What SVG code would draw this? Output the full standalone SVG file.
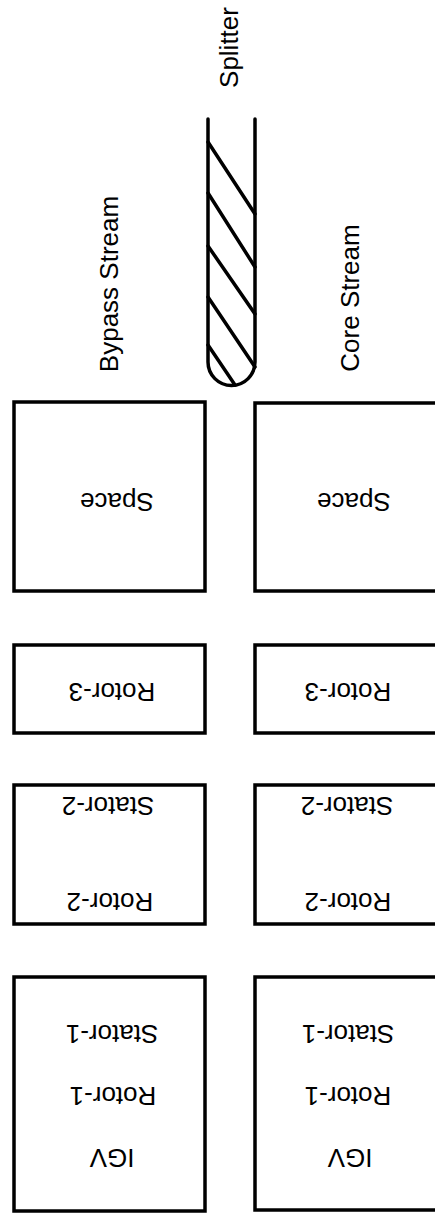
<svg xmlns="http://www.w3.org/2000/svg" width="435" height="1216" viewBox="0 0 435 1216">
<style>
.box{fill:none;stroke:#000;stroke-width:3.5}
.sp{fill:none;stroke:#000;stroke-width:3.5;stroke-linecap:round}
.t{font-family:"Liberation Sans",Arial,sans-serif;font-size:26px;fill:#000;text-anchor:middle}
</style>
<rect width="435" height="1216" fill="#fff"/>
<g id="splitter">
<path class="sp" d="M208,119 V362 A23.5,23.5 0 0 0 255,362 V119"/>
<path class="sp" d="M208,142 L255,214 M208,193 L255,267 M208,246 L255,314 M208,297 L255,367 M208,345 L235,385"/>
<text class="t" transform="translate(229,47.5) rotate(-90)" y="9.3">Splitter</text>
</g>
<g id="labels">
<text class="t" transform="translate(108.5,284) rotate(-90)" y="9.3">Bypass Stream</text>
<text class="t" transform="translate(350,298) rotate(-90)" y="9.3">Core Stream</text>
</g>
<g id="bypass-space">
<rect class="box" x="14" y="402" width="191" height="189"/>
<text class="t" transform="translate(117,502) rotate(180)" y="9.3">Space</text>
</g>
<g id="core-space">
<rect class="box" x="255" y="403" width="195" height="188"/>
<text class="t" transform="translate(354,502) rotate(180)" y="9.3">Space</text>
</g>
<g id="bypass-rotor3">
<rect class="box" x="14" y="645" width="191" height="88"/>
<text class="t" transform="translate(112,692) rotate(180)" y="9.3">Rotor-3</text>
</g>
<g id="core-rotor3">
<rect class="box" x="255" y="645" width="195" height="88"/>
<text class="t" transform="translate(348,692) rotate(180)" y="9.3">Rotor-3</text>
</g>
<g id="bypass-stage2">
<rect class="box" x="14" y="785" width="191" height="139"/>
<text class="t" transform="translate(108,806) rotate(180)" y="9.3">Stator-2</text>
<text class="t" transform="translate(110,902) rotate(180)" y="9.3">Rotor-2</text>
</g>
<g id="core-stage2">
<rect class="box" x="255" y="785" width="195" height="139"/>
<text class="t" transform="translate(347,806) rotate(180)" y="9.3">Stator-2</text>
<text class="t" transform="translate(348,902) rotate(180)" y="9.3">Rotor-2</text>
</g>
<g id="bypass-stage1">
<rect class="box" x="14" y="977" width="191" height="234"/>
<text class="t" transform="translate(112,1034) rotate(180)" y="9.3">Stator-1</text>
<text class="t" transform="translate(113,1096) rotate(180)" y="9.3">Rotor-1</text>
<text class="t" transform="translate(112,1158) rotate(180)" y="9.3">IGV</text>
</g>
<g id="core-stage1">
<rect class="box" x="255" y="977" width="195" height="233"/>
<text class="t" transform="translate(348,1034) rotate(180)" y="9.3">Stator-1</text>
<text class="t" transform="translate(348,1096) rotate(180)" y="9.3">Rotor-1</text>
<text class="t" transform="translate(350,1158) rotate(180)" y="9.3">IGV</text>
</g>
<g id="connectors"></g>
</svg>
